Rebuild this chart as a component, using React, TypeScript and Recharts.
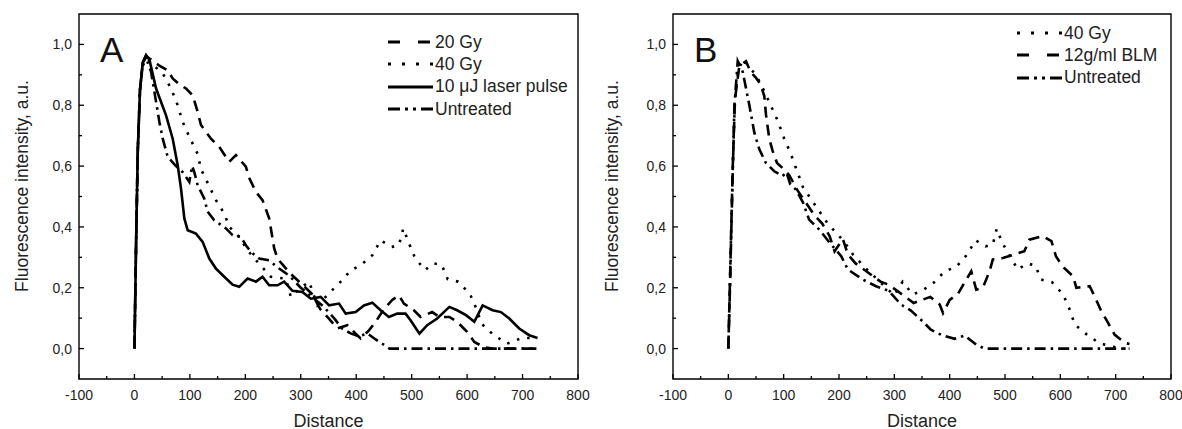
import React from 'react';
import { LineChart, Line, XAxis, YAxis, ReferenceArea } from 'recharts';

const FONT = '"Liberation Sans", Arial, Helvetica, sans-serif';

type Pt = [number, number];

// axis ticks (minor ticks included, labels only on the major ones)
const distanceTicks = [-100, -50, 0, 50, 100, 150, 200, 250, 300, 350, 400, 450, 500, 550, 600, 650, 700, 750, 800];
const intensityTicks = [0, 0.1, 0.2, 0.3, 0.4, 0.5, 0.6, 0.7, 0.8, 0.9, 1.0];

// Panel A: [distance, intensity]
const gy20A: Pt[] = [
  [0, 0], [3, 0.35], [6, 0.65], [10, 0.85], [15, 0.94], [22, 0.96], [30, 0.95], [45, 0.93], [60, 0.915],
  [69, 0.888], [80, 0.87], [93, 0.855], [105, 0.833], [114, 0.778], [120, 0.735], [138, 0.69], [153, 0.663],
  [171, 0.614], [183, 0.636], [201, 0.598], [206, 0.565], [219, 0.515], [231, 0.488], [243, 0.428], [252, 0.33],
  [258, 0.296], [270, 0.27], [285, 0.24], [300, 0.215], [320, 0.18], [335, 0.13], [350, 0.1], [366, 0.066],
  [384, 0.077], [399, 0.049], [408, 0.033], [423, 0.06], [435, 0.088], [450, 0.13], [465, 0.16], [477, 0.175],
  [486, 0.148], [504, 0.126], [516, 0.104], [537, 0.12], [550, 0.104], [568, 0.104], [582, 0.088], [600, 0.055],
  [613, 0.022], [630, 0.005], [645, 0], [725, 0],
];
const gy40A: Pt[] = [
  [0, 0], [3, 0.35], [6, 0.65], [10, 0.85], [15, 0.93], [22, 0.955], [35, 0.93], [51, 0.905], [66, 0.855],
  [78, 0.8], [87, 0.745], [99, 0.696], [114, 0.64], [120, 0.59], [132, 0.545], [147, 0.488], [162, 0.444],
  [171, 0.4], [189, 0.367], [204, 0.323], [222, 0.285], [246, 0.236], [273, 0.23], [282, 0.17], [300, 0.2],
  [315, 0.22], [330, 0.142], [350, 0.18], [372, 0.22], [390, 0.257], [408, 0.274], [429, 0.307], [444, 0.356],
  [464, 0.334], [477, 0.34], [485, 0.395], [494, 0.351], [506, 0.298], [524, 0.258], [539, 0.28], [554, 0.276],
  [565, 0.228], [584, 0.22], [605, 0.18], [617, 0.13], [626, 0.082], [647, 0.046], [672, 0.016], [699, 0.035],
  [725, 0.035],
];
const laserA: Pt[] = [
  [0, 0], [3, 0.35], [6, 0.65], [10, 0.85], [15, 0.94], [21, 0.965], [27, 0.95], [39, 0.855], [57, 0.767],
  [69, 0.69], [78, 0.603], [84, 0.526], [90, 0.428], [96, 0.389], [111, 0.378], [123, 0.351], [135, 0.296],
  [147, 0.263], [162, 0.236], [177, 0.21], [189, 0.203], [204, 0.23], [219, 0.22], [231, 0.236], [243, 0.208],
  [258, 0.208], [270, 0.22], [285, 0.19], [303, 0.186], [318, 0.164], [336, 0.17], [351, 0.142], [369, 0.148],
  [381, 0.115], [399, 0.12], [414, 0.142], [429, 0.151], [444, 0.126], [459, 0.104], [474, 0.115], [489, 0.115],
  [498, 0.093], [514, 0.049], [528, 0.077], [546, 0.099], [568, 0.137], [582, 0.126], [598, 0.11], [613, 0.088],
  [628, 0.142], [646, 0.126], [661, 0.12], [676, 0.099], [694, 0.066], [712, 0.044], [727, 0.035],
];
const untreatedA: Pt[] = [
  [0, 0], [3, 0.35], [6, 0.65], [10, 0.85], [15, 0.94], [20, 0.96], [26, 0.93], [30, 0.91], [36, 0.844],
  [45, 0.745], [51, 0.69], [60, 0.63], [75, 0.6], [87, 0.58], [99, 0.548], [104, 0.6], [108, 0.58], [114, 0.537],
  [126, 0.493], [132, 0.45], [144, 0.422], [165, 0.395], [177, 0.373], [192, 0.367], [201, 0.34], [210, 0.318],
  [225, 0.296], [243, 0.29], [261, 0.263], [279, 0.24], [300, 0.2], [320, 0.17], [340, 0.14], [360, 0.1],
  [375, 0.065], [390, 0.05], [405, 0.04], [420, 0.05], [435, 0.03], [447, 0.016], [460, 0], [725, 0],
];

// Panel B
const gy40B: Pt[] = [
  [0, 0], [4, 0.3], [8, 0.6], [12, 0.82], [18, 0.92], [28, 0.95], [40, 0.92], [50, 0.9], [65, 0.846],
  [89, 0.75], [101, 0.69], [113, 0.64], [125, 0.58], [135, 0.53], [150, 0.49], [165, 0.45], [180, 0.41],
  [195, 0.38], [210, 0.35], [225, 0.31], [245, 0.27], [265, 0.235], [282, 0.205], [300, 0.175], [315, 0.22],
  [333, 0.178], [350, 0.19], [372, 0.218], [391, 0.254], [412, 0.269], [430, 0.306], [447, 0.356], [465, 0.336],
  [478, 0.342], [485, 0.394], [495, 0.348], [523, 0.26], [540, 0.28], [555, 0.273], [565, 0.227], [585, 0.218],
  [605, 0.178], [617, 0.128], [626, 0.079], [648, 0.046], [672, 0.016], [690, 0.01], [705, 0], [720, 0],
];
const blmB: Pt[] = [
  [0, 0], [4, 0.3], [8, 0.6], [12, 0.82], [20, 0.93], [32, 0.945], [40, 0.91], [50, 0.89], [58, 0.87],
  [65, 0.83], [68, 0.77], [74, 0.69], [80, 0.65], [88, 0.61], [100, 0.59], [110, 0.57], [125, 0.52],
  [140, 0.48], [155, 0.44], [170, 0.41], [183, 0.37], [192, 0.32], [207, 0.36], [216, 0.31], [230, 0.28],
  [245, 0.26], [260, 0.24], [275, 0.22], [290, 0.21], [305, 0.19], [320, 0.17], [335, 0.15], [350, 0.16],
  [365, 0.17], [382, 0.145], [388, 0.117], [400, 0.16], [415, 0.18], [430, 0.227], [439, 0.254], [448, 0.194],
  [460, 0.2], [472, 0.254], [478, 0.293], [496, 0.298], [511, 0.306], [535, 0.32], [544, 0.358], [568, 0.37],
  [584, 0.353], [592, 0.304], [604, 0.27], [623, 0.238], [629, 0.2], [653, 0.205], [662, 0.172], [674, 0.123],
  [683, 0.095], [698, 0.046], [716, 0.019], [725, 0.015],
];
const untreatedB: Pt[] = [
  [0, 0], [3, 0.2], [5, 0.36], [8, 0.58], [11, 0.8], [17, 0.945], [26, 0.91], [38, 0.8], [47, 0.71],
  [56, 0.655], [68, 0.61], [83, 0.583], [98, 0.567], [105, 0.58], [112, 0.54], [122, 0.523], [135, 0.48],
  [146, 0.424], [165, 0.39], [183, 0.348], [204, 0.304], [216, 0.26], [243, 0.227], [267, 0.205], [290, 0.19],
  [312, 0.145], [330, 0.125], [351, 0.09], [366, 0.062], [385, 0.045], [409, 0.032], [427, 0.043], [448, 0.013],
  [463, 0], [725, 0],
];

const DASH = '11 7';
const DOT = '2.5 8';
const DASHDOT = '11 5 2.5 5';

const LEG_DASH = '12 18';
const LEG_DOT = '3 11';
const LEG_DASHDOT = '12 5 3 5 3 5 12';

interface Series {
  name: string;
  data: Pt[];
  dash?: string;
  legendDash?: string;
}

const seriesA: Series[] = [
  { name: '20 Gy', data: gy20A, dash: DASH, legendDash: LEG_DASH },
  { name: '40 Gy', data: gy40A, dash: DOT, legendDash: LEG_DOT },
  { name: '10 \u03bcJ laser pulse', data: laserA },
  { name: 'Untreated', data: untreatedA, dash: DASHDOT, legendDash: LEG_DASHDOT },
];

const seriesB: Series[] = [
  { name: '40 Gy', data: gy40B, dash: DOT, legendDash: LEG_DOT },
  { name: '12g/ml BLM', data: blmB, dash: DASH, legendDash: LEG_DASH },
  { name: 'Untreated', data: untreatedB, dash: DASHDOT, legendDash: LEG_DASHDOT },
];

const toRows = (pts: Pt[]) => pts.map(([x, y]) => ({ x, y }));

const HEIGHT = 429;
const PLOT_TOP = 14;
const PLOT_BOTTOM = 379;
const X_AXIS_H = 30;
const Y_AXIS_W = 40;

interface PanelProps {
  letter: string;
  series: Series[];
  offsetX: number;
  width: number;
  plotLeft: number;
  plotRight: number;
  legendX: number;
  legendY: number;
}

const Panel: React.FC<PanelProps> = ({ letter, series, offsetX, width, plotLeft, plotRight, legendX, legendY }) => {
  const xTick = (props: any) => {
    const { x, payload } = props;
    const v = payload.value as number;
    const major = v % 100 === 0;
    return (
      <g>
        <line x1={x} x2={x} y1={PLOT_BOTTOM} y2={PLOT_BOTTOM - (major ? 5 : 3)} stroke="#000" strokeWidth={1.3} />
        {major && (
          <text x={x} y={PLOT_BOTTOM + 21} textAnchor="middle" fontSize={14} fontFamily={FONT} fill="#222">
            {v}
          </text>
        )}
      </g>
    );
  };

  const yTick = (props: any) => {
    const { y, payload } = props;
    const v = payload.value as number;
    const major = Math.round(v * 10) % 2 === 0;
    return (
      <g>
        <line x1={plotLeft} x2={plotLeft + (major ? 5 : 3)} y1={y} y2={y} stroke="#000" strokeWidth={1.3} />
        {major && (
          <text x={plotLeft - 7} y={y + 5} textAnchor="end" fontSize={14} fontFamily={FONT} fill="#222">
            {v.toFixed(1).replace('.', ',')}
          </text>
        )}
      </g>
    );
  };

  return (
    <div style={{ position: 'absolute', left: offsetX, top: 0, width, height: HEIGHT }}>
      <LineChart
        width={width}
        height={HEIGHT}
        margin={{
          top: PLOT_TOP,
          right: width - plotRight,
          bottom: HEIGHT - PLOT_BOTTOM - X_AXIS_H,
          left: plotLeft - Y_AXIS_W,
        }}
      >
        <XAxis
          type="number"
          dataKey="x"
          domain={[-100, 800]}
          ticks={distanceTicks}
          interval={0}
          height={X_AXIS_H}
          axisLine={false}
          tickLine={false}
          tick={xTick}
          allowDataOverflow
        />
        <YAxis
          type="number"
          dataKey="y"
          domain={[-0.1, 1.1]}
          ticks={intensityTicks}
          interval={0}
          width={Y_AXIS_W}
          axisLine={false}
          tickLine={false}
          tick={yTick}
          allowDataOverflow
        />
        <ReferenceArea x1={-100} x2={800} y1={-0.1} y2={1.1} fill="none" stroke="#000" strokeWidth={1.4} />
        {series.map((s) => (
          <Line
            key={s.name}
            data={toRows(s.data)}
            dataKey="y"
            name={s.name}
            type="linear"
            stroke="#000"
            strokeWidth={2.6}
            strokeDasharray={s.dash}
            dot={false}
            activeDot={false}
            isAnimationActive={false}
          />
        ))}
      </LineChart>

      {/* panel letter */}
      <div
        style={{
          position: 'absolute',
          left: plotLeft + 21,
          top: 30,
          fontFamily: FONT,
          fontSize: 35,
          lineHeight: '40px',
          color: '#111',
        }}
      >
        {letter}
      </div>

      {/* y axis title */}
      <div
        style={{
          position: 'absolute',
          left: 22,
          top: 186,
          width: 400,
          transform: 'translate(-50%, -50%) rotate(-90deg)',
          textAlign: 'center',
          fontFamily: FONT,
          fontSize: 17.5,
          color: '#222',
          whiteSpace: 'nowrap',
        }}
      >
        Fluorescence intensity, a.u.
      </div>

      {/* x axis title */}
      <div
        style={{
          position: 'absolute',
          left: (plotLeft + plotRight) / 2 - 100,
          top: 411,
          width: 200,
          textAlign: 'center',
          fontFamily: FONT,
          fontSize: 18,
          color: '#222',
        }}
      >
        Distance
      </div>

      {/* legend */}
      <div style={{ position: 'absolute', left: legendX, top: legendY }}>
        {series.map((s) => (
          <div key={s.name} style={{ display: 'flex', alignItems: 'center', height: 22.3 }}>
            <svg width={45} height={10} style={{ marginRight: 2 }}>
              <line x1={0} x2={45} y1={5} y2={5} stroke="#000" strokeWidth={3} strokeDasharray={s.legendDash} />
            </svg>
            <span style={{ fontFamily: FONT, fontSize: 17.5, color: '#222', whiteSpace: 'nowrap' }}>{s.name}</span>
          </div>
        ))}
      </div>
    </div>
  );
};

export default function App() {
  return (
    <div style={{ position: 'absolute', left: 0, top: 0, width: 1182, height: HEIGHT, background: '#fff' }}>
      <Panel
        letter="A"
        series={seriesA}
        offsetX={0}
        width={590}
        plotLeft={79}
        plotRight={578}
        legendX={388}
        legendY={31}
      />
      <Panel
        letter="B"
        series={seriesB}
        offsetX={590}
        width={592}
        plotLeft={83}
        plotRight={581}
        legendX={427}
        legendY={22}
      />
    </div>
  );
}
